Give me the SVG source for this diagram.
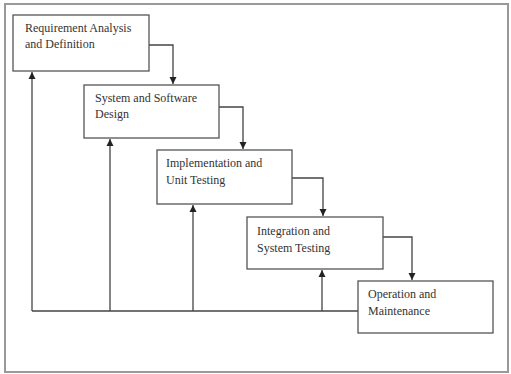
<svg xmlns="http://www.w3.org/2000/svg" width="511" height="374" viewBox="0 0 511 374">
<defs>
<marker id="ah" markerWidth="8" markerHeight="8" refX="7" refY="4" orient="auto" markerUnits="userSpaceOnUse">
<path d="M0,0.5 L7,4 L0,7.5 z" fill="#222"/>
</marker>
<style>
.frame{fill:#fff;stroke:#999;stroke-width:2}
.box{fill:#fff;stroke:#555;stroke-width:1.3}
.t{font-family:"Liberation Serif","Times New Roman",serif;font-size:12px;fill:#333}
.c{fill:none;stroke:#444;stroke-width:1.3}
</style>
</defs>
<rect x="0" y="0" width="511" height="374" fill="#fff"/>
<rect class="frame" x="5" y="4" width="503" height="368"/>
<g id="connectors">
<path class="c" d="M149,45 H173 V84" marker-end="url(#ah)"/>
<path class="c" d="M219,107 H243 V149" marker-end="url(#ah)"/>
<path class="c" d="M292,178 H323 V216" marker-end="url(#ah)"/>
<path class="c" d="M383,237 H412 V280" marker-end="url(#ah)"/>
<path class="c" d="M358,311 H32"/>
<path class="c" d="M32,311 V72" marker-end="url(#ah)"/>
<path class="c" d="M110,311 V139" marker-end="url(#ah)"/>
<path class="c" d="M193,311 V205" marker-end="url(#ah)"/>
<path class="c" d="M322,311 V270" marker-end="url(#ah)"/>
</g>
<g id="n1">
<rect class="box" x="13" y="15" width="136" height="56"/>
<text class="t" x="25" y="32">Requirement Analysis</text>
<text class="t" x="25" y="48">and Definition</text>
</g>
<g id="n2">
<rect class="box" x="84" y="85" width="135" height="53"/>
<text class="t" x="95" y="102">System and Software</text>
<text class="t" x="95" y="118">Design</text>
</g>
<g id="n3">
<rect class="box" x="157" y="150" width="135" height="54"/>
<text class="t" x="166" y="167">Implementation and</text>
<text class="t" x="166" y="184">Unit Testing</text>
</g>
<g id="n4">
<rect class="box" x="247" y="217" width="136" height="52"/>
<text class="t" x="257" y="235">Integration and</text>
<text class="t" x="257" y="252">System Testing</text>
</g>
<g id="n5">
<rect class="box" x="358" y="281" width="135" height="52"/>
<text class="t" x="368" y="298">Operation and</text>
<text class="t" x="368" y="315">Maintenance</text>
</g>
</svg>
